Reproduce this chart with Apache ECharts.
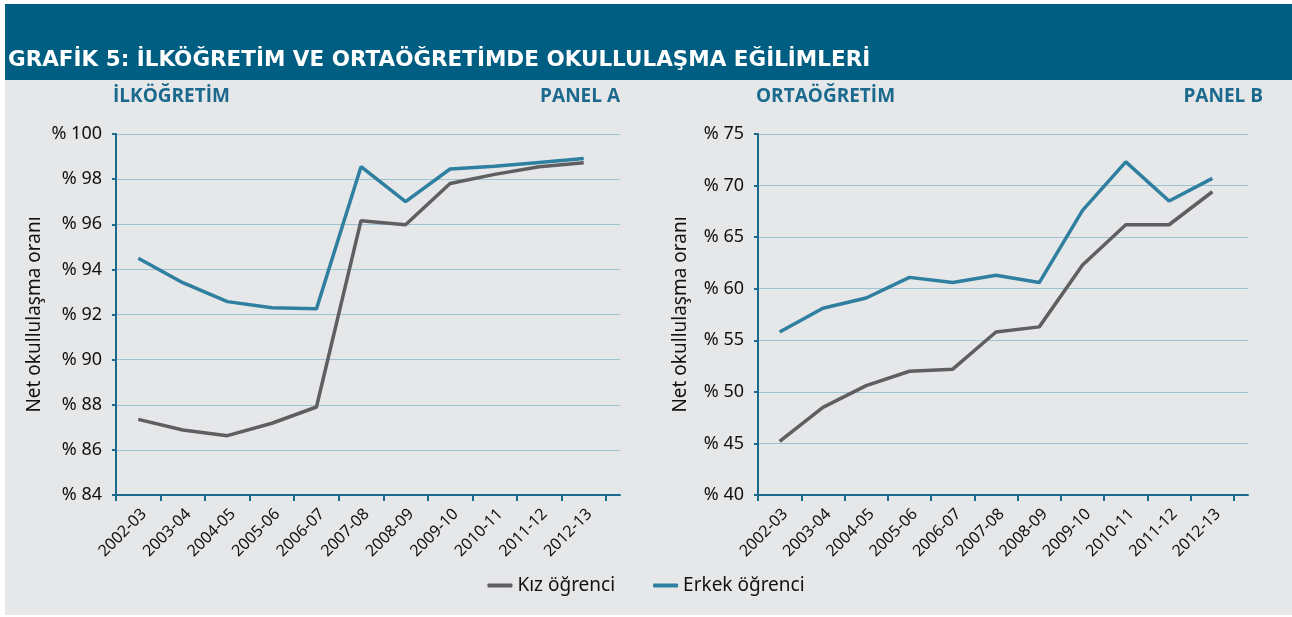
<!DOCTYPE html>
<html>
<head>
<meta charset="utf-8">
<script src="https://cdn.jsdelivr.net/npm/echarts@6/dist/echarts.min.js"></script>
<style>
  html, body { margin: 0; padding: 0; background: #ffffff; }
  #main { width: 1292px; height: 617px; }
</style>
</head>
<body>
<div id="main"></div>
<script>
var myChart = echarts.init(document.getElementById('main'));

// school years (x axis)
var years = ['2002-03', '2003-04', '2004-05', '2005-06', '2006-07', '2007-08',
             '2008-09', '2009-10', '2010-11', '2011-12', '2012-13'];

// Panel A - ilkogretim (primary)
var ilkKiz   = [87.35, 86.88, 86.63, 87.18, 87.9, 96.16, 95.98, 97.81, 98.21, 98.55, 98.73];
var ilkErkek = [94.49, 93.41, 92.57, 92.3, 92.25, 98.55, 97.0, 98.45, 98.57, 98.74, 98.91];

// Panel B - ortaogretim (secondary)
var ortaKiz   = [45.2, 48.5, 50.6, 52.0, 52.2, 55.8, 56.3, 62.3, 66.2, 66.2, 69.4];
var ortaErkek = [55.8, 58.1, 59.1, 61.1, 60.6, 61.3, 60.6, 67.6, 72.3, 68.5, 70.7];

var font = 'Noto Sans';
var axisBlue = '#1b6a8e';
var gridBlue = '#9dc3d1';
var kizColor = '#5f5f61';
var erkekColor = '#2f7fa0';

function xAxisCfg(gridIndex) {
    return {
        type: 'category',
        gridIndex: gridIndex,
        data: years,
        boundaryGap: true,
        axisLine: { lineStyle: { color: axisBlue, width: 2 } },
        axisTick: { show: true, length: 6, lineStyle: { color: axisBlue, width: 2 } },
        axisLabel: { rotate: 45, margin: 11, verticalAlign: 'top', color: '#111',
                     fontSize: 16, fontFamily: font },
        splitLine: { show: false }
    };
}

function yAxisCfg(gridIndex, min, max, interval, gap) {
    return {
        type: 'value',
        gridIndex: gridIndex,
        min: min,
        max: max,
        interval: interval,
        name: 'Net okullulaşma oranı',
        nameLocation: 'middle',
        nameGap: gap,
        nameTextStyle: { color: '#111', fontSize: 19, fontFamily: font },
        axisLine: { show: true, lineStyle: { color: axisBlue, width: 2 } },
        axisTick: { show: true, length: 4, lineStyle: { color: axisBlue, width: 2 } },
        axisLabel: { margin: 14, color: '#111', fontSize: 18, fontFamily: font,
                     formatter: '% {value}' },
        splitLine: { show: false }
    };
}

// wider backdrop grids: gridlines and x axis line run past the last category
function backXCfg(gridIndex) {
    return {
        type: 'value', gridIndex: gridIndex, min: 0, max: 1,
        axisLine: { show: true, onZero: false, lineStyle: { color: axisBlue, width: 2 } },
        axisTick: { show: false }, axisLabel: { show: false }, splitLine: { show: false }
    };
}
function backYCfg(gridIndex, min, max, interval) {
    return {
        type: 'value', gridIndex: gridIndex, min: min, max: max, interval: interval,
        axisLine: { show: false }, axisTick: { show: false }, axisLabel: { show: false },
        splitLine: { show: true, lineStyle: { color: gridBlue, width: 1 } }
    };
}

function lineSeries(name, data, color, idx) {
    return {
        name: name,
        type: 'line',
        xAxisIndex: idx,
        yAxisIndex: idx,
        data: data,
        symbol: 'none',
        lineStyle: { color: color, width: 3.5 },
        itemStyle: { color: color },
        z: 5,
        animation: false
    };
}

var panelTitle = { color: axisBlue, fontSize: 19, fontWeight: 'bold', fontFamily: 'Open Sans' };

option = {
    backgroundColor: '#ffffff',
    textStyle: { fontFamily: font },
    graphic: [
        { type: 'rect', shape: { x: 5, y: 4, width: 1287, height: 611 },
          style: { fill: '#e6e7e9' }, z: -10 },
        { type: 'rect', shape: { x: 5, y: 4, width: 1287, height: 76 },
          style: { fill: '#005e82' }, z: -9 },
        { type: 'text', left: 8, top: 49,
          style: { text: 'GRAFİK 5: İLKÖĞRETİM VE ORTAÖĞRETİMDE OKULLULAŞMA EĞİLİMLERİ',
                   fill: '#ffffff', font: 'bold 21.5px "DejaVu Sans"' } }
    ],
    title: [
        { text: 'İLKÖĞRETİM', left: 113, top: 87, padding: 0, textStyle: panelTitle },
        { text: 'PANEL A', right: 672, top: 87, padding: 0, textStyle: panelTitle },
        { text: 'ORTAÖĞRETİM', left: 756, top: 87, padding: 0, textStyle: panelTitle },
        { text: 'PANEL B', right: 29, top: 87, padding: 0, textStyle: panelTitle }
    ],
    legend: {
        bottom: 17,
        left: 'center',
        itemGap: 38,
        itemWidth: 25,
        itemHeight: 4,
        icon: 'roundRect',
        textStyle: { color: '#111', fontSize: 19, fontFamily: font },
        data: ['Kız öğrenci', 'Erkek öğrenci']
    },
    grid: [
        { left: 116, top: 134, width: 490, height: 361 },
        { left: 758, top: 134, width: 476, height: 361 },
        { left: 116, top: 134, width: 504, height: 361 },
        { left: 758, top: 134, width: 490, height: 361 }
    ],
    xAxis: [xAxisCfg(0), xAxisCfg(1), backXCfg(2), backXCfg(3)],
    yAxis: [yAxisCfg(0, 84, 100, 2, 72), yAxisCfg(1, 40, 75, 5, 68),
            backYCfg(2, 84, 100, 2), backYCfg(3, 40, 75, 5)],
    series: [
        lineSeries('Kız öğrenci', ilkKiz, kizColor, 0),
        lineSeries('Erkek öğrenci', ilkErkek, erkekColor, 0),
        lineSeries('Kız öğrenci', ortaKiz, kizColor, 1),
        lineSeries('Erkek öğrenci', ortaErkek, erkekColor, 1)
    ]
};

myChart.setOption(option);
</script>
</body>
</html>
